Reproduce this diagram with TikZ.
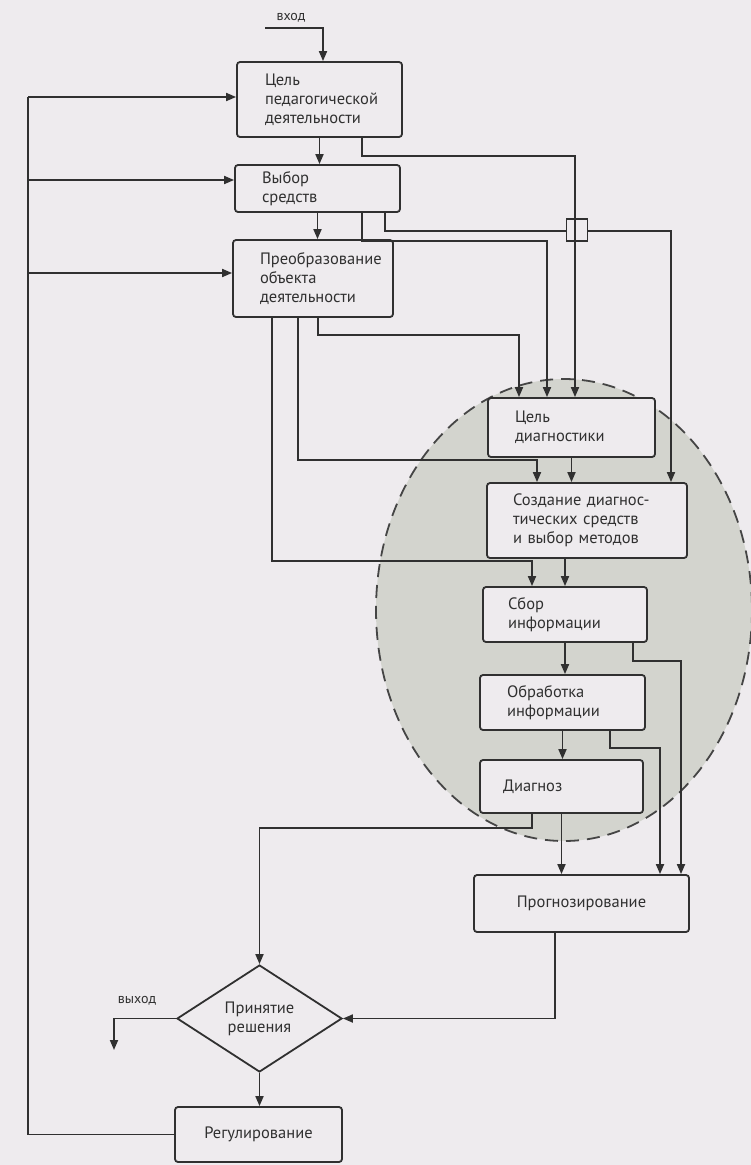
\documentclass[tikz,border=0pt]{standalone}
\usepackage{fontspec}
\setmainfont{PT Sans}
\usetikzlibrary{shapes.geometric,arrows.meta}
\definecolor{paper}{RGB}{238,235,238}
\definecolor{ink}{RGB}{48,48,48}
\definecolor{haze}{RGB}{211,212,206}
\begin{document}
\begin{tikzpicture}[x=1pt,y=-1pt,
  font=\fontsize{16.5}{19}\selectfont,
  every node/.style={text=ink},
  line/.style={draw=ink,line width=1.8pt},
  arr/.style={line,-{Triangle[length=10pt,width=8pt]}},
  box/.style={draw=ink,line width=1.8pt,fill=paper,rounded corners=3pt,
              align=left,inner ysep=0pt},
  cbox/.style={box,align=center,inner xsep=0pt},
  decision/.style={diamond,draw=ink,line width=1.8pt,fill=paper,
                   align=center,inner sep=0pt},
  small/.style={font=\fontsize{14}{16}\selectfont},
  zone/.style={draw=ink!90,fill=haze,line width=1.8pt,dash pattern=on 13pt off 8pt}
]
% page
\fill[paper] (0,0) rectangle (751,1165);
\useasboundingbox (0,0) rectangle (751,1165);

% shaded diagnostics zone
\path[zone] (564,610) ellipse [x radius=188, y radius=231];

% upper chain
\node[box,minimum width=165pt,minimum height=75pt,text width=109pt,inner xsep=28pt]
  (b1) at (319.5,99.5) {Цель\\педагогической\\деятельности};
\node[box,minimum width=165pt,minimum height=47pt,text width=111pt,inner xsep=27pt]
  (b2) at (317.5,188.5) {Выбор\\средств};
\node[box,minimum width=160pt,minimum height=77pt,text width=106pt,inner xsep=27pt]
  (b3) at (313,278.5) {Преобразование\\объекта\\деятельности};

% diagnostics chain
\node[box,minimum width=167pt,minimum height=59pt,text width=113pt,inner xsep=27pt]
  (d1) at (571.5,427.5) {Цель\\диагностики};
\node[box,minimum width=200pt,minimum height=75pt,text width=148pt,inner xsep=26pt]
  (d2) at (587,520.5) {Создание диагнос-\\тических средств\\и выбор методов};
\node[box,minimum width=164pt,minimum height=55pt,text width=114pt,inner xsep=25pt]
  (d3) at (565,614.5) {Сбор\\информации};
\node[box,minimum width=165pt,minimum height=55pt,text width=111pt,inner xsep=27pt]
  (d4) at (562.5,702.5) {Обработка\\информации};
\node[box,minimum width=163pt,minimum height=53pt,text width=117pt,inner xsep=23pt]
  (d5) at (561.5,786.5) {Диагноз};

% lower part
\node[cbox,minimum width=215pt,minimum height=57pt] (p) at (581.5,903.5) {Прогнозирование};
\node[decision,minimum width=165pt,minimum height=107pt] (dec) at (259.5,1018.5) {Принятие\\решения};
\node[cbox,minimum width=167pt,minimum height=55pt] (reg) at (258.5,1134.5) {Регулирование};

% input and output
\coordinate (in0) at (265,28);
\coordinate (in1) at (323,28);
\node[small] (inlbl) at (291,18) {вход};
\draw[arr] (in0) -- (in1) -- (in1 |- b1.north);
\coordinate (out) at (114,1050);
\node[small] (outlbl) at (137,1001) {выход};
\draw[arr] (dec.west) -| (out);

% main vertical flow
\draw[arr] (b1.south) -- (b1.south |- b2.north);
\draw[arr] (b2.south) -- (b2.south |- b3.north);
\draw[arr] (d1.south) -- (d1.south |- d2.north);
\draw[arr] (d3.north |- d2.south) -- (d3.north);
\draw[arr] (d3.south) -- (d3.south |- d4.north);
\draw[arr] (d4.south) -- (d4.south |- d5.north);
\draw[arr] (d5.south) -- (d5.south |- p.north);
\draw[arr] (dec.south) -- (dec.south |- reg.north);

% feedback from regulation
\coordinate (fb) at (28,0);
\draw[line] (reg.west) -- (reg.west -| fb) -- ([yshift=2.5pt]b1.west -| fb);
\draw[arr] ([yshift=2.5pt]b1.west -| fb) -- ([yshift=2.5pt]b1.west);
\draw[arr] ([yshift=8.5pt]b2.west -| fb) -- ([yshift=8.5pt]b2.west);
\draw[arr] ([yshift=5.5pt]b3.west -| fb) -- ([yshift=5.5pt]b3.west);

% links into the diagnostics zone
\draw[arr] ([xshift=67.5pt]b2.south) -- ++(0,18) -| ([xshift=84pt]d2.north);
\node[draw=ink,line width=1.8pt,fill=paper,minimum width=21pt,minimum height=22pt,inner sep=0pt]
  (br) at (577,230) {};
\draw[arr] ([xshift=42.5pt]b1.south) -- ++(0,18) -| ([xshift=3.5pt]d1.north);
\draw[arr] ([xshift=44.5pt]b2.south) -- ++(0,28) -| ([xshift=-24.5pt]d1.north);
\draw[arr] ([xshift=5pt]b3.south) -- ++(0,17) -| ([xshift=-52.5pt]d1.north);
\draw[arr] ([xshift=-15pt]b3.south) -- ++(0,142) -| ([xshift=-50pt]d2.north);
\draw[arr] ([xshift=-41pt]b3.south) -- ++(0,243) -| ([xshift=-33pt]d3.north);

% links to forecasting and decision
\draw[arr] ([xshift=68pt]d3.south) -- ++(0,18) -| ([xshift=99.5pt]p.north);
\draw[arr] ([xshift=47.5pt]d4.south) -- ++(0,17) -| ([xshift=78.5pt]p.north);
\draw[arr] ([xshift=-29.5pt]d5.south) -- ++(0,14) -| (dec.north);
\draw[arr] ([xshift=-26.5pt]p.south) |- (dec.east);
\end{tikzpicture}
\end{document}
